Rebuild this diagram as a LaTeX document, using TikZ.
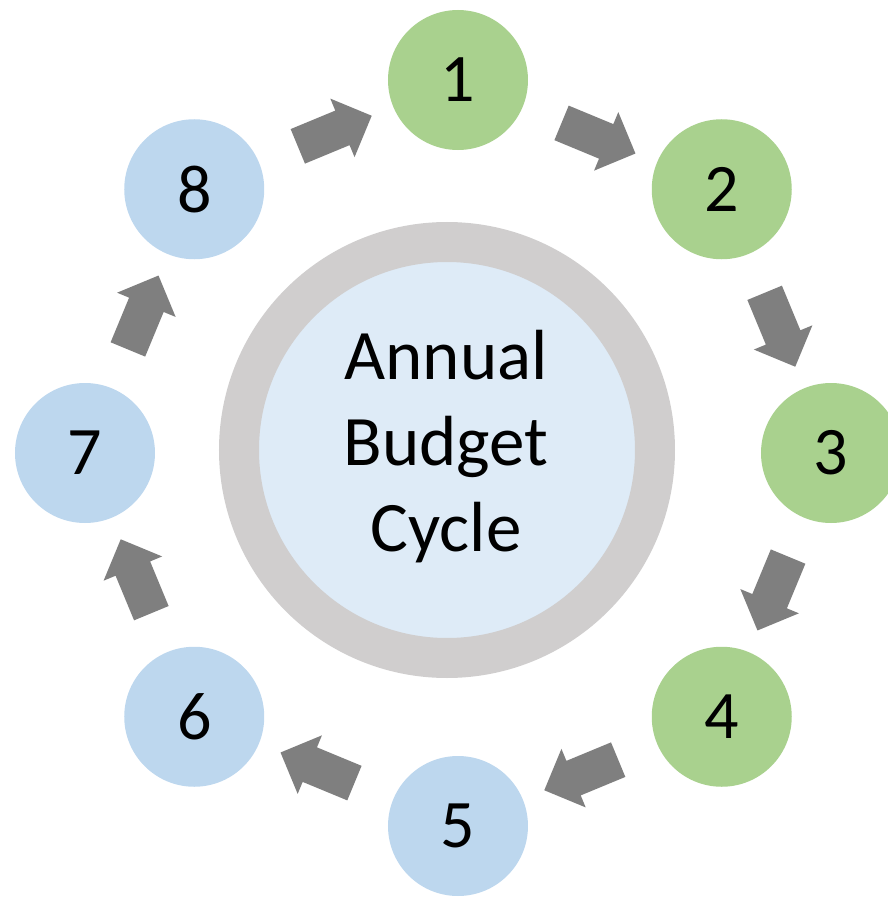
\documentclass[tikz,border=0pt]{standalone}
\usepackage{fontspec}
\setmainfont{Carlito}
\usetikzlibrary{shapes.arrows,calc}
\definecolor{stepgreen}{HTML}{A9D18E}
\definecolor{stepblue}{HTML}{BDD7EE}
\definecolor{hubfill}{HTML}{DEEBF7}
\definecolor{hubring}{HTML}{D0CECE}
\definecolor{flowgray}{HTML}{7F7F7F}

\begin{document}
\begin{tikzpicture}[
  x=1pt, y=1pt,
  stage/.style={circle, minimum size=140pt, inner sep=0pt, font=\fontsize{68}{68}\selectfont},
  done/.style={stage, fill=stepgreen},
  todo/.style={stage, fill=stepblue},
  hub/.style={circle, fill=hubfill, draw=hubring, line width=40pt, minimum size=416pt},
  flow/.style={single arrow, fill=flowgray, minimum height=80pt, minimum width=63pt,
    single arrow head extend=13pt, inner xsep=0pt, inner ysep=18.5pt}
]
  \useasboundingbox (-458,-445) rectangle (430,453);

  \node[hub] (hub) at (-11,3) {};
  \node[align=center, font=\fontsize{71}{86}\selectfont] (title) at (-12,6) {Annual\\Budget\\Cycle};

  \node[done] (s1) at (90:373) {1};
  \node[done] (s2) at (45:373) {2};
  \node[done] (s3) at (0:373) {3};
  \node[done] (s4) at (-45:373) {4};
  \node[todo] (s5) at (-90:373) {5};
  \node[todo] (s6) at (-135:373) {6};
  \node[todo] (s7) at (180:373) {7};
  \node[todo] (s8) at (135:373) {8};

  \node[flow, rotate=-22.5] (a12) at ($(s1)!0.5!(s2)$) {};
  \node[flow, rotate=-67.5] (a23) at ($(s2)!0.5!(s3)$) {};
  \node[flow, rotate=-112.5] (a34) at ($(s3)!0.5!(s4)$) {};
  \node[flow, rotate=-157.5] (a45) at ($(s4)!0.5!(s5)$) {};
  \node[flow, rotate=157.5] (a56) at ($(s5)!0.5!(s6)$) {};
  \node[flow, rotate=112.5] (a67) at ($(s6)!0.5!(s7)$) {};
  \node[flow, rotate=67.5] (a78) at ($(s7)!0.5!(s8)$) {};
  \node[flow, rotate=22.5] (a81) at ($(s8)!0.5!(s1)$) {};
\end{tikzpicture}
\end{document}
